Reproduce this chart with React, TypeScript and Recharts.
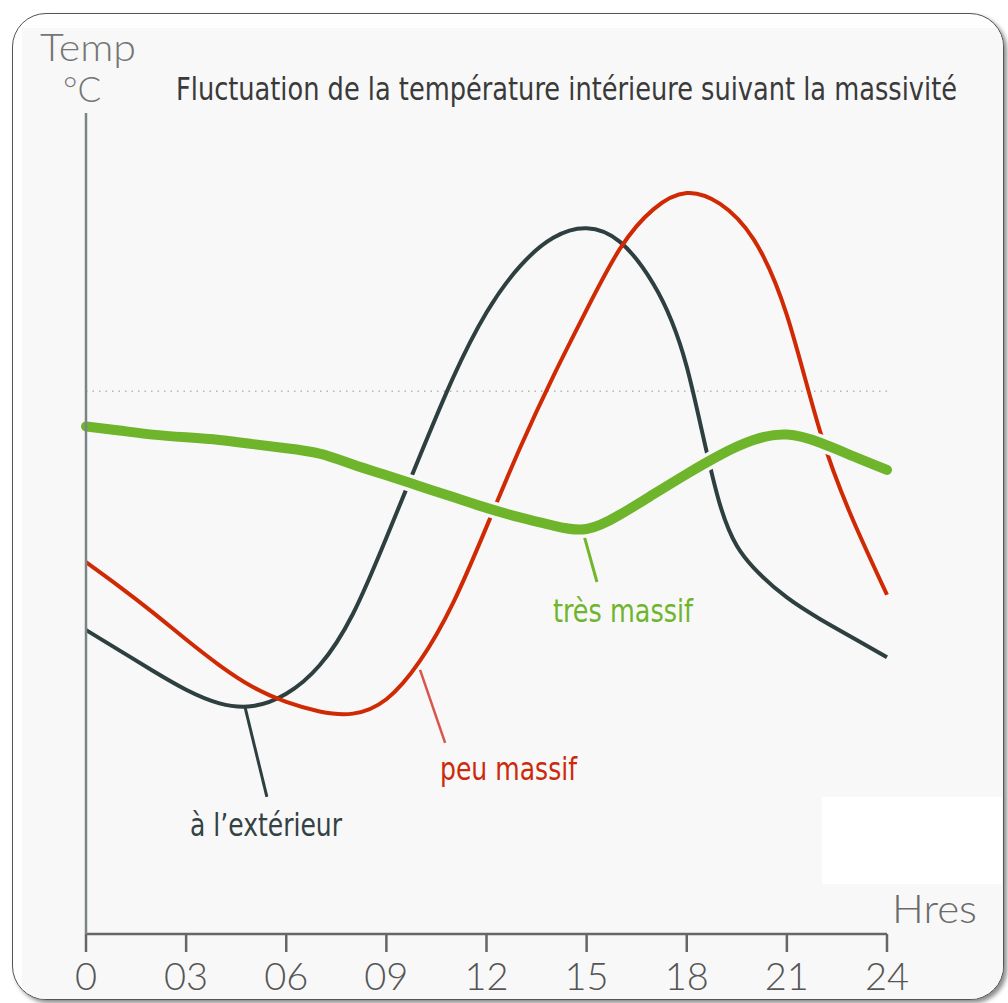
import { LineChart, Line, XAxis, YAxis, ReferenceLine } from "recharts";

const hours = [0, 1, 2, 3, 4, 5, 6, 7, 8, 9, 10, 11, 12, 13, 14, 15, 16, 17, 18, 19, 20, 21, 22, 23, 24];
const exterieur = [11.2, 10.45, 9.7, 9.0, 8.5, 8.4, 8.85, 9.9, 11.8, 14.6, 17.6, 20.5, 22.9, 24.6, 25.65, 26.0, 25.5, 23.95, 20.9, 15.8, 13.5, 12.4, 11.6, 10.9, 10.2];
const peuMassif = [13.7, 12.8, 11.85, 10.85, 9.9, 9.1, 8.55, 8.2, 8.12, 8.65, 10.05, 12.2, 15.0, 17.9, 20.55, 23.0, 25.25, 26.7, 27.3, 26.9, 25.6, 22.8, 18.5, 15.2, 12.5];
const tresMassif = [18.7, 18.55, 18.4, 18.3, 18.2, 18.05, 17.9, 17.7, 17.3, 16.9, 16.5, 16.1, 15.7, 15.35, 15.05, 14.92, 15.45, 16.2, 16.95, 17.65, 18.2, 18.4, 18.1, 17.6, 17.1];
const xTicks = [0, 3, 6, 9, 12, 15, 18, 21, 24];
const xTickLabels = ["0", "03", "06", "09", "12", "15", "18", "21", "24"];
const confortTemp = 20;

const data = hours.map((h, i) => ({
  h,
  exterieur: exterieur[i],
  peu: peuMassif[i],
  tres: tresMassif[i],
}));

const condensed = "'Liberation Sans Narrow', 'DejaVu Sans Condensed', 'Open Sans', sans-serif";
const light = "Lato, 'Open Sans', 'DejaVu Sans', sans-serif";

export default function App() {
  return (
    <div style={{ position: "absolute", left: 0, top: 0, width: 1008, height: 1003, background: "#fff" }}>
      <div
        style={{
          position: "absolute",
          left: 12,
          top: 13,
          width: 992,
          height: 987,
          boxSizing: "border-box",
          border: "1.5px solid #555",
          borderRadius: 34,
          boxShadow: "3px 3px 4px rgba(0,0,0,0.45)",
          background: "#fefefe",
          overflow: "hidden",
        }}
      >
        <div style={{ position: "absolute", left: 9, top: 14, right: 0, bottom: 0, background: "#f8f8f8" }} />
        <div style={{ position: "absolute", left: 809, top: 783, width: 180, height: 87, background: "#ffffff" }} />
      </div>
      <div style={{ position: "absolute", left: 0, top: 0 }}>
        <LineChart width={1008} height={1003} data={data} margin={{ top: 113, right: 121, bottom: 0, left: 84 }}>
          <XAxis
            type="number"
            dataKey="h"
            domain={[0, 24]}
            ticks={xTicks}
            tickFormatter={(v: number) => xTickLabels[xTicks.indexOf(v)]}
            height={69}
            tickSize={18}
            tickMargin={11}
            stroke="#666"
            strokeWidth={2.5}
            tick={{ fontSize: 38, fill: "#555", fontFamily: light, fontWeight: 300 }}
            interval={0}
          />
          <YAxis
            type="number"
            domain={[0, 30.25]}
            allowDataOverflow
            width={2}
            tick={false}
            tickLine={false}
            stroke="#7a8585"
            strokeWidth={2.5}
          />
          <ReferenceLine y={confortTemp} stroke="#b5b5b5" strokeWidth={1.5} strokeDasharray="1.5 5" />
          <ReferenceLine segment={[{ x: 4.77, y: 8.33 }, { x: 5.42, y: 5.05 }]} stroke="#2e3f3f" strokeWidth={3} />
          <ReferenceLine segment={[{ x: 10.01, y: 9.73 }, { x: 10.76, y: 7.04 }]} stroke="#d9544a" strokeWidth={2.5} />
          <ReferenceLine segment={[{ x: 14.9, y: 14.78 }, { x: 15.31, y: 12.97 }]} stroke="#72b62c" strokeWidth={3} />
          <Line type="natural" dataKey="exterieur" stroke="#2e3f3f" strokeWidth={4} dot={false} isAnimationActive={false} />
          <Line type="natural" dataKey="peu" stroke="#d02a04" strokeWidth={4} dot={false} isAnimationActive={false} />
          <Line type="natural" dataKey="tres" stroke="#f8f8f8" strokeWidth={17} strokeLinecap="round" dot={false} isAnimationActive={false} />
          <Line type="natural" dataKey="tres" stroke="#6fb52c" strokeWidth={10} strokeLinecap="round" dot={false} isAnimationActive={false} />
          <g transform="translate(176,100) scale(1,1.2)">
            <text x={0} y={0} fontSize={26} fill="#3a3a3a" fontFamily={condensed} textLength={781} lengthAdjust="spacingAndGlyphs">
              Fluctuation de la température intérieure suivant la massivité
            </text>
          </g>
          <text x={40} y={61} fontSize={37} fill="#757575" fontFamily={light} fontWeight={300} textLength={96} lengthAdjust="spacingAndGlyphs">Temp</text>
          <text x={63} y={102} fontSize={35} fill="#757575" fontFamily={light} fontWeight={300}>°C</text>
          <text x={892} y={923} fontSize={40} fill="#6a6a6a" fontFamily={light} fontWeight={300} textLength={85} lengthAdjust="spacingAndGlyphs">Hres</text>
          <text x={553} y={622} fontSize={32} fill="#6fb52c" fontFamily={condensed} textLength={140} lengthAdjust="spacingAndGlyphs">très massif</text>
          <text x={440} y={780} fontSize={32} fill="#cc2a0a" fontFamily={condensed} textLength={137} lengthAdjust="spacingAndGlyphs">peu massif</text>
          <text x={190} y={836} fontSize={32} fill="#334242" fontFamily={condensed} textLength={152} lengthAdjust="spacingAndGlyphs">à l’extérieur</text>
        </LineChart>
      </div>
    </div>
  );
}
